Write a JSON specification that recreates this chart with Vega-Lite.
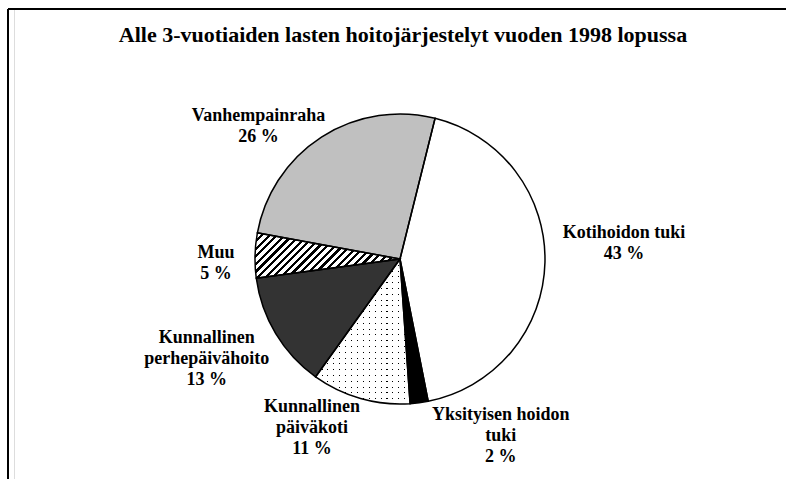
{
  "$schema": "https://vega.github.io/schema/vega-lite/v6.json",
  "autosize": "none",
  "padding": {"left": 14, "top": 9, "right": 0, "bottom": 0},
  "width": 772,
  "height": 500,
  "background": "white",
  "title": {
    "text": "Alle 3-vuotiaiden lasten hoitojärjestelyt vuoden 1998 lopussa",
    "font": "Liberation Serif",
    "fontSize": 22,
    "fontWeight": "bold",
    "color": "black",
    "anchor": "middle",
    "frame": "group",
    "offset": -39,
    "dx": 3
  },
  "layer": [
    {
      "data": {"values": [{"frame": 1}]},
      "mark": {"type": "rule", "stroke": "black", "strokeWidth": 2},
      "encoding": {"y": {"value": 0}, "x": {"value": -6}, "x2": {"value": 772}}
    },
    {
      "data": {"values": [{"frame": 1}]},
      "mark": {"type": "rule", "stroke": "black", "strokeWidth": 2},
      "encoding": {"x": {"value": -6}, "y": {"value": 0}, "y2": {"value": 500}}
    },
    {
      "data": {
        "values": [
          {"category": "Kotihoidon tuki", "value": 43, "order": 1, "label": "Kotihoidon tuki\n43 %"},
          {"category": "Yksityisen hoidon tuki", "value": 2, "order": 2, "label": "Yksityisen hoidon\ntuki\n2 %"},
          {"category": "Kunnallinen päiväkoti", "value": 11, "order": 3, "label": "Kunnallinen\npäiväkoti\n11 %"},
          {"category": "Kunnallinen perhepäivähoito", "value": 13, "order": 4, "label": "Kunnallinen\nperhepäivähoito\n13 %"},
          {"category": "Muu", "value": 5, "order": 5, "label": "Muu\n5 %"},
          {"category": "Vanhempainraha", "value": 26, "order": 6, "label": "Vanhempainraha\n26 %"}
        ]
      },
      "transform": [
        {"stack": "value", "groupby": [], "sort": [{"field": "order", "order": "ascending"}], "as": ["v0", "v1"]}
      ],
      "layer": [
        {
          "mark": {"type": "arc", "outerRadius": 145, "stroke": null},
          "encoding": {
            "theta": {"field": "v0", "type": "quantitative", "scale": {"domain": [0, 100], "range": [0.2443, 6.5275]}},
            "theta2": {"field": "v1"},
            "color": {
              "field": "category", "type": "nominal", "legend": null,
              "scale": {
                "domain": ["Kotihoidon tuki", "Yksityisen hoidon tuki", "Kunnallinen päiväkoti", "Kunnallinen perhepäivähoito", "Muu", "Vanhempainraha"],
                "range": ["#ffffff", "#000000", "#000000", "#333333", "#ffffff", "#c0c0c0"]
              }
            }
          }
        },
        {
          "transform": [{"filter": "datum.category == 'Muu'"}],
          "mark": {
            "type": "arc", "outerRadius": 145, "stroke": null,
            "fill": {
              "gradient": "linear", "x1": 0, "y1": 0, "x2": 1.196, "y2": 0.374,
              "stops": [
                {"offset": 0, "color": "black"}, {"offset": 0.017, "color": "black"}, {"offset": 0.017, "color": "white"}, {"offset": 0.04, "color": "white"},
                {"offset": 0.04, "color": "black"}, {"offset": 0.057, "color": "black"}, {"offset": 0.057, "color": "white"}, {"offset": 0.08, "color": "white"},
                {"offset": 0.08, "color": "black"}, {"offset": 0.097, "color": "black"}, {"offset": 0.097, "color": "white"}, {"offset": 0.12, "color": "white"},
                {"offset": 0.12, "color": "black"}, {"offset": 0.137, "color": "black"}, {"offset": 0.137, "color": "white"}, {"offset": 0.16, "color": "white"},
                {"offset": 0.16, "color": "black"}, {"offset": 0.177, "color": "black"}, {"offset": 0.177, "color": "white"}, {"offset": 0.2, "color": "white"},
                {"offset": 0.2, "color": "black"}, {"offset": 0.217, "color": "black"}, {"offset": 0.217, "color": "white"}, {"offset": 0.24, "color": "white"},
                {"offset": 0.24, "color": "black"}, {"offset": 0.257, "color": "black"}, {"offset": 0.257, "color": "white"}, {"offset": 0.28, "color": "white"},
                {"offset": 0.28, "color": "black"}, {"offset": 0.297, "color": "black"}, {"offset": 0.297, "color": "white"}, {"offset": 0.32, "color": "white"},
                {"offset": 0.32, "color": "black"}, {"offset": 0.337, "color": "black"}, {"offset": 0.337, "color": "white"}, {"offset": 0.36, "color": "white"},
                {"offset": 0.36, "color": "black"}, {"offset": 0.377, "color": "black"}, {"offset": 0.377, "color": "white"}, {"offset": 0.4, "color": "white"},
                {"offset": 0.4, "color": "black"}, {"offset": 0.417, "color": "black"}, {"offset": 0.417, "color": "white"}, {"offset": 0.44, "color": "white"},
                {"offset": 0.44, "color": "black"}, {"offset": 0.457, "color": "black"}, {"offset": 0.457, "color": "white"}, {"offset": 0.48, "color": "white"},
                {"offset": 0.48, "color": "black"}, {"offset": 0.497, "color": "black"}, {"offset": 0.497, "color": "white"}, {"offset": 0.52, "color": "white"},
                {"offset": 0.52, "color": "black"}, {"offset": 0.537, "color": "black"}, {"offset": 0.537, "color": "white"}, {"offset": 0.56, "color": "white"},
                {"offset": 0.56, "color": "black"}, {"offset": 0.577, "color": "black"}, {"offset": 0.577, "color": "white"}, {"offset": 0.6, "color": "white"},
                {"offset": 0.6, "color": "black"}, {"offset": 0.617, "color": "black"}, {"offset": 0.617, "color": "white"}, {"offset": 0.64, "color": "white"},
                {"offset": 0.64, "color": "black"}, {"offset": 0.657, "color": "black"}, {"offset": 0.657, "color": "white"}, {"offset": 0.68, "color": "white"},
                {"offset": 0.68, "color": "black"}, {"offset": 0.697, "color": "black"}, {"offset": 0.697, "color": "white"}, {"offset": 0.72, "color": "white"},
                {"offset": 0.72, "color": "black"}, {"offset": 0.737, "color": "black"}, {"offset": 0.737, "color": "white"}, {"offset": 0.76, "color": "white"},
                {"offset": 0.76, "color": "black"}, {"offset": 0.777, "color": "black"}, {"offset": 0.777, "color": "white"}, {"offset": 0.8, "color": "white"},
                {"offset": 0.8, "color": "black"}, {"offset": 0.817, "color": "black"}, {"offset": 0.817, "color": "white"}, {"offset": 0.84, "color": "white"},
                {"offset": 0.84, "color": "black"}, {"offset": 0.857, "color": "black"}, {"offset": 0.857, "color": "white"}, {"offset": 0.88, "color": "white"},
                {"offset": 0.88, "color": "black"}, {"offset": 0.897, "color": "black"}, {"offset": 0.897, "color": "white"}, {"offset": 0.92, "color": "white"},
                {"offset": 0.92, "color": "black"}, {"offset": 0.937, "color": "black"}, {"offset": 0.937, "color": "white"}, {"offset": 0.96, "color": "white"},
                {"offset": 0.96, "color": "black"}, {"offset": 0.977, "color": "black"}, {"offset": 0.977, "color": "white"}, {"offset": 1, "color": "white"}
              ]
            }
          },
          "encoding": {
            "theta": {"field": "v0", "type": "quantitative"},
            "theta2": {"field": "v1"}
          }
        },
        {
          "transform": [{"filter": "datum.category == 'Kunnallinen päiväkoti'"}],
          "mark": {
            "type": "arc", "outerRadius": 145, "stroke": null,
            "fill": {
              "gradient": "linear", "x1": 0, "y1": 0, "x2": 0, "y2": 1,
              "stops": [
                {"offset": 0, "color": "rgba(255,255,255,0)"}, {"offset": 0.0075, "color": "rgba(255,255,255,0)"}, {"offset": 0.0075, "color": "white"}, {"offset": 0.04, "color": "white"},
                {"offset": 0.04, "color": "rgba(255,255,255,0)"}, {"offset": 0.0475, "color": "rgba(255,255,255,0)"}, {"offset": 0.0475, "color": "white"}, {"offset": 0.08, "color": "white"},
                {"offset": 0.08, "color": "rgba(255,255,255,0)"}, {"offset": 0.0875, "color": "rgba(255,255,255,0)"}, {"offset": 0.0875, "color": "white"}, {"offset": 0.12, "color": "white"},
                {"offset": 0.12, "color": "rgba(255,255,255,0)"}, {"offset": 0.1275, "color": "rgba(255,255,255,0)"}, {"offset": 0.1275, "color": "white"}, {"offset": 0.16, "color": "white"},
                {"offset": 0.16, "color": "rgba(255,255,255,0)"}, {"offset": 0.1675, "color": "rgba(255,255,255,0)"}, {"offset": 0.1675, "color": "white"}, {"offset": 0.2, "color": "white"},
                {"offset": 0.2, "color": "rgba(255,255,255,0)"}, {"offset": 0.2075, "color": "rgba(255,255,255,0)"}, {"offset": 0.2075, "color": "white"}, {"offset": 0.24, "color": "white"},
                {"offset": 0.24, "color": "rgba(255,255,255,0)"}, {"offset": 0.2475, "color": "rgba(255,255,255,0)"}, {"offset": 0.2475, "color": "white"}, {"offset": 0.28, "color": "white"},
                {"offset": 0.28, "color": "rgba(255,255,255,0)"}, {"offset": 0.2875, "color": "rgba(255,255,255,0)"}, {"offset": 0.2875, "color": "white"}, {"offset": 0.32, "color": "white"},
                {"offset": 0.32, "color": "rgba(255,255,255,0)"}, {"offset": 0.3275, "color": "rgba(255,255,255,0)"}, {"offset": 0.3275, "color": "white"}, {"offset": 0.36, "color": "white"},
                {"offset": 0.36, "color": "rgba(255,255,255,0)"}, {"offset": 0.3675, "color": "rgba(255,255,255,0)"}, {"offset": 0.3675, "color": "white"}, {"offset": 0.4, "color": "white"},
                {"offset": 0.4, "color": "rgba(255,255,255,0)"}, {"offset": 0.4075, "color": "rgba(255,255,255,0)"}, {"offset": 0.4075, "color": "white"}, {"offset": 0.44, "color": "white"},
                {"offset": 0.44, "color": "rgba(255,255,255,0)"}, {"offset": 0.4475, "color": "rgba(255,255,255,0)"}, {"offset": 0.4475, "color": "white"}, {"offset": 0.48, "color": "white"},
                {"offset": 0.48, "color": "rgba(255,255,255,0)"}, {"offset": 0.4875, "color": "rgba(255,255,255,0)"}, {"offset": 0.4875, "color": "white"}, {"offset": 0.52, "color": "white"},
                {"offset": 0.52, "color": "rgba(255,255,255,0)"}, {"offset": 0.5275, "color": "rgba(255,255,255,0)"}, {"offset": 0.5275, "color": "white"}, {"offset": 0.56, "color": "white"},
                {"offset": 0.56, "color": "rgba(255,255,255,0)"}, {"offset": 0.5675, "color": "rgba(255,255,255,0)"}, {"offset": 0.5675, "color": "white"}, {"offset": 0.6, "color": "white"},
                {"offset": 0.6, "color": "rgba(255,255,255,0)"}, {"offset": 0.6075, "color": "rgba(255,255,255,0)"}, {"offset": 0.6075, "color": "white"}, {"offset": 0.64, "color": "white"},
                {"offset": 0.64, "color": "rgba(255,255,255,0)"}, {"offset": 0.6475, "color": "rgba(255,255,255,0)"}, {"offset": 0.6475, "color": "white"}, {"offset": 0.68, "color": "white"},
                {"offset": 0.68, "color": "rgba(255,255,255,0)"}, {"offset": 0.6875, "color": "rgba(255,255,255,0)"}, {"offset": 0.6875, "color": "white"}, {"offset": 0.72, "color": "white"},
                {"offset": 0.72, "color": "rgba(255,255,255,0)"}, {"offset": 0.7275, "color": "rgba(255,255,255,0)"}, {"offset": 0.7275, "color": "white"}, {"offset": 0.76, "color": "white"},
                {"offset": 0.76, "color": "rgba(255,255,255,0)"}, {"offset": 0.7675, "color": "rgba(255,255,255,0)"}, {"offset": 0.7675, "color": "white"}, {"offset": 0.8, "color": "white"},
                {"offset": 0.8, "color": "rgba(255,255,255,0)"}, {"offset": 0.8075, "color": "rgba(255,255,255,0)"}, {"offset": 0.8075, "color": "white"}, {"offset": 0.84, "color": "white"},
                {"offset": 0.84, "color": "rgba(255,255,255,0)"}, {"offset": 0.8475, "color": "rgba(255,255,255,0)"}, {"offset": 0.8475, "color": "white"}, {"offset": 0.88, "color": "white"},
                {"offset": 0.88, "color": "rgba(255,255,255,0)"}, {"offset": 0.8875, "color": "rgba(255,255,255,0)"}, {"offset": 0.8875, "color": "white"}, {"offset": 0.92, "color": "white"},
                {"offset": 0.92, "color": "rgba(255,255,255,0)"}, {"offset": 0.9275, "color": "rgba(255,255,255,0)"}, {"offset": 0.9275, "color": "white"}, {"offset": 0.96, "color": "white"},
                {"offset": 0.96, "color": "rgba(255,255,255,0)"}, {"offset": 0.9675, "color": "rgba(255,255,255,0)"}, {"offset": 0.9675, "color": "white"}, {"offset": 1, "color": "white"}
              ]
            }
          },
          "encoding": {
            "theta": {"field": "v0", "type": "quantitative"},
            "theta2": {"field": "v1"}
          }
        },
        {
          "transform": [{"filter": "datum.category == 'Kunnallinen päiväkoti'"}],
          "mark": {
            "type": "arc", "outerRadius": 145, "stroke": null,
            "fill": {
              "gradient": "linear", "x1": 0, "y1": 0, "x2": 1, "y2": 0,
              "stops": [
                {"offset": 0, "color": "rgba(255,255,255,0)"}, {"offset": 0.0115, "color": "rgba(255,255,255,0)"}, {"offset": 0.0115, "color": "white"}, {"offset": 0.0625, "color": "white"},
                {"offset": 0.0625, "color": "rgba(255,255,255,0)"}, {"offset": 0.074, "color": "rgba(255,255,255,0)"}, {"offset": 0.074, "color": "white"}, {"offset": 0.125, "color": "white"},
                {"offset": 0.125, "color": "rgba(255,255,255,0)"}, {"offset": 0.1365, "color": "rgba(255,255,255,0)"}, {"offset": 0.1365, "color": "white"}, {"offset": 0.1875, "color": "white"},
                {"offset": 0.1875, "color": "rgba(255,255,255,0)"}, {"offset": 0.199, "color": "rgba(255,255,255,0)"}, {"offset": 0.199, "color": "white"}, {"offset": 0.25, "color": "white"},
                {"offset": 0.25, "color": "rgba(255,255,255,0)"}, {"offset": 0.2615, "color": "rgba(255,255,255,0)"}, {"offset": 0.2615, "color": "white"}, {"offset": 0.3125, "color": "white"},
                {"offset": 0.3125, "color": "rgba(255,255,255,0)"}, {"offset": 0.324, "color": "rgba(255,255,255,0)"}, {"offset": 0.324, "color": "white"}, {"offset": 0.375, "color": "white"},
                {"offset": 0.375, "color": "rgba(255,255,255,0)"}, {"offset": 0.3865, "color": "rgba(255,255,255,0)"}, {"offset": 0.3865, "color": "white"}, {"offset": 0.4375, "color": "white"},
                {"offset": 0.4375, "color": "rgba(255,255,255,0)"}, {"offset": 0.449, "color": "rgba(255,255,255,0)"}, {"offset": 0.449, "color": "white"}, {"offset": 0.5, "color": "white"},
                {"offset": 0.5, "color": "rgba(255,255,255,0)"}, {"offset": 0.5115, "color": "rgba(255,255,255,0)"}, {"offset": 0.5115, "color": "white"}, {"offset": 0.5625, "color": "white"},
                {"offset": 0.5625, "color": "rgba(255,255,255,0)"}, {"offset": 0.574, "color": "rgba(255,255,255,0)"}, {"offset": 0.574, "color": "white"}, {"offset": 0.625, "color": "white"},
                {"offset": 0.625, "color": "rgba(255,255,255,0)"}, {"offset": 0.6365, "color": "rgba(255,255,255,0)"}, {"offset": 0.6365, "color": "white"}, {"offset": 0.6875, "color": "white"},
                {"offset": 0.6875, "color": "rgba(255,255,255,0)"}, {"offset": 0.699, "color": "rgba(255,255,255,0)"}, {"offset": 0.699, "color": "white"}, {"offset": 0.75, "color": "white"},
                {"offset": 0.75, "color": "rgba(255,255,255,0)"}, {"offset": 0.7615, "color": "rgba(255,255,255,0)"}, {"offset": 0.7615, "color": "white"}, {"offset": 0.8125, "color": "white"},
                {"offset": 0.8125, "color": "rgba(255,255,255,0)"}, {"offset": 0.824, "color": "rgba(255,255,255,0)"}, {"offset": 0.824, "color": "white"}, {"offset": 0.875, "color": "white"},
                {"offset": 0.875, "color": "rgba(255,255,255,0)"}, {"offset": 0.8865, "color": "rgba(255,255,255,0)"}, {"offset": 0.8865, "color": "white"}, {"offset": 0.9375, "color": "white"},
                {"offset": 0.9375, "color": "rgba(255,255,255,0)"}, {"offset": 0.949, "color": "rgba(255,255,255,0)"}, {"offset": 0.949, "color": "white"}, {"offset": 1, "color": "white"}
              ]
            }
          },
          "encoding": {
            "theta": {"field": "v0", "type": "quantitative"},
            "theta2": {"field": "v1"}
          }
        },
        {
          "mark": {"type": "arc", "outerRadius": 145, "fill": "transparent", "stroke": "black", "strokeWidth": 1.5},
          "encoding": {
            "theta": {"field": "v0", "type": "quantitative"},
            "theta2": {"field": "v1"}
          }
        },
        {
          "mark": {
            "type": "text", "radius": 180, "font": "Liberation Serif", "fontWeight": "bold", "fontSize": 18,
            "lineBreak": "\n", "lineHeight": 21, "align": "center", "baseline": "middle", "color": "black",
            "dx": {"expr": "datum.category == 'Kotihoidon tuki' ? 44 : datum.category == 'Yksityisen hoidon tuki' ? 77 : datum.category == 'Kunnallinen päiväkoti' ? -39 : datum.category == 'Kunnallinen perhepäivähoito' ? -39 : datum.category == 'Muu' ? -4 : -44"},
            "dy": {"expr": "datum.category == 'Kotihoidon tuki' ? -30 : datum.category == 'Yksityisen hoidon tuki' ? -22 : datum.category == 'Kunnallinen päiväkoti' ? -25 : datum.category == 'Kunnallinen perhepäivähoito' ? -14 : datum.category == 'Muu' ? -2 : 8"}
          },
          "encoding": {
            "theta": {"field": "value", "type": "quantitative", "stack": true},
            "order": {"field": "order", "type": "quantitative"},
            "text": {"field": "label", "type": "nominal"}
          }
        }
      ]
    }
  ]
}
